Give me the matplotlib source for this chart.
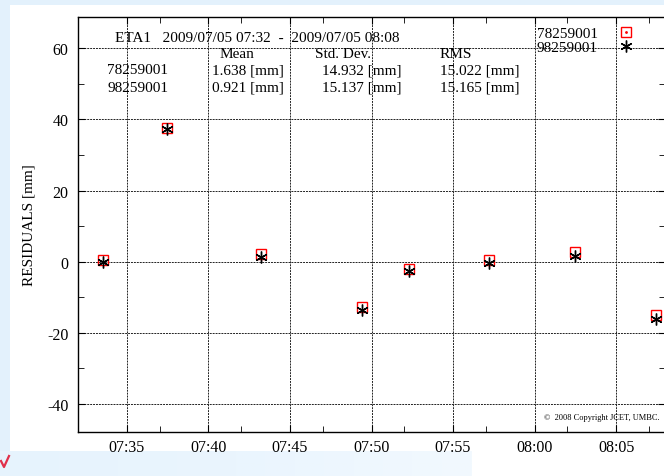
import matplotlib
matplotlib.use("Agg")
import matplotlib.pyplot as plt
import matplotlib.dates as mdates
import numpy as np
import pandas as pd
from matplotlib.patches import Rectangle
from matplotlib.lines import Line2D

# data
day = "2009-07-05"
times = ["07:33:32", "07:37:27", "07:43:12", "07:49:24", "07:52:18", "07:57:12", "08:02:30", "08:07:27"]
res_78259001 = [0.5, 37.6, 2.0, -12.7, -2.0, 0.5, 2.6, -15.0]
res_98259001 = [0.0, 37.2, 1.4, -13.6, -2.8, -0.3, 1.5, -16.2]

stations = ["78259001", "98259001"]
means = ["1.638", "0.921"]
stds = ["14.932", "15.137"]
rmss = ["15.022", "15.165"]

W, H = 664, 477


def px(x, y):
    return x / W, 1 - y / H


plt.rcParams["font.family"] = ["Liberation Serif", "DejaVu Serif"]
plt.rcParams["axes.unicode_minus"] = False

fig = plt.figure(figsize=(W / 100, H / 100), dpi=100, facecolor="#e3f1fc")

# white page + bottom band
fig.patches.append(Rectangle((10 / W, 0), 1, 1 - 6 / H, transform=fig.transFigure,
                             facecolor="white", edgecolor="none", zorder=0))
band = fig.add_axes([0, 0, 472 / W, 25 / H], zorder=0.5)
grad = np.linspace(0, 1, 256)[None, :]
band.imshow(grad, aspect="auto", cmap=matplotlib.colors.LinearSegmentedColormap.from_list(
    "b", ["#e6f3fd", "#eaf5fe", "#f2f9fe"]), extent=[0, 1, 0, 1])
band.axis("off")
fig.lines.append(Line2D([1 / W, 4 / W, 9 / W], [1 - 462 / H, 1 - 468 / H, 1 - 457 / H],
                        transform=fig.transFigure, color="#e0304a", lw=1.6))

ax = fig.add_axes([78 / W, 44 / H, 587 / W, 415.5 / H], zorder=1)
ax.set_facecolor("white")

t = pd.to_datetime([f"{day} {s}" for s in times])
ax.plot(t, res_78259001, linestyle="none", marker="s", markersize=7,
        markerfacecolor="none", markeredgecolor="red", markeredgewidth=1.0, zorder=3)
ax.plot(t, res_98259001, linestyle="none", marker=(6, 2, 0), markersize=8.5,
        color="black", markeredgewidth=1.0, zorder=4)

ax.set_xlim(pd.Timestamp(f"{day} 07:32"), pd.Timestamp(f"{day} 08:08"))
ax.set_ylim(-48, 69)
ax.xaxis.set_major_locator(mdates.MinuteLocator(byminute=range(0, 60, 5)))
ax.xaxis.set_minor_locator(mdates.MinuteLocator(byminute=[2, 7, 12, 17, 22, 27, 32, 37, 42, 47, 52, 57]))
ax.xaxis.set_major_formatter(mdates.DateFormatter("%H:%M"))
ax.set_yticks([-40, -20, 0, 20, 40, 60])
ax.set_yticks([-30, -10, 10, 30, 50], minor=True)

ax.tick_params(which="both", direction="in", top=True, right=True, labelsize=11.5,
               colors="black", pad=7)
ax.tick_params(which="major", length=5)
ax.tick_params(which="minor", length=4)
ax.tick_params(axis="x", pad=5)
for sp in ax.spines.values():
    sp.set_linewidth(1.0)
ax.grid(True, which="major", color="#222222", linestyle=(0, (2, 1)), linewidth=0.7)
ax.set_ylabel("RESIDUALS [mm]", fontsize=11, labelpad=8)

# stats header
fs = 11
fig.text(*px(115, 38), "ETA1   2009/07/05 07:32  -  2009/07/05 08:08", fontsize=fs, va="center")
fig.text(*px(237, 55), "Mean", fontsize=fs, va="center", ha="center")
fig.text(*px(343, 55), "Std. Dev.", fontsize=fs, va="center", ha="center")
fig.text(*px(456, 55), "RMS", fontsize=fs, va="center", ha="center")
for i, st in enumerate(stations):
    y = 71 + 17 * i
    fig.text(*px(107, y), st, fontsize=fs, va="center")
    fig.text(*px(212, y), f"{means[i]} [mm]", fontsize=fs, va="center")
    fig.text(*px(401, y), f"{stds[i]} [mm]", fontsize=fs, va="center", ha="right")
    fig.text(*px(520, y), f"{rmss[i]} [mm]", fontsize=fs, va="center", ha="right")

# legend
sq = Line2D([], [], linestyle="none", marker="s", markersize=7, markerfacecolor="none",
            markeredgecolor="red", markeredgewidth=1.0)
dot = Line2D([], [], linestyle="none", marker=".", markersize=2, color="red")
star = Line2D([], [], linestyle="none", marker=(6, 2, 0), markersize=8.5, color="black",
              markeredgewidth=1.0)
ax.legend([(sq, dot), star], stations, loc="upper left", bbox_to_anchor=px(529, 20),
          bbox_transform=fig.transFigure, frameon=False, markerfirst=False, fontsize=fs,
          handlelength=1.2, handletextpad=1.25, labelspacing=0.0, borderpad=0)

fig.text(*px(660, 418), "\u00a9  2008 Copyright JCET, UMBC.", fontsize=6, ha="right", va="center")

fig.savefig("out.png", dpi=100, facecolor=fig.get_facecolor())
